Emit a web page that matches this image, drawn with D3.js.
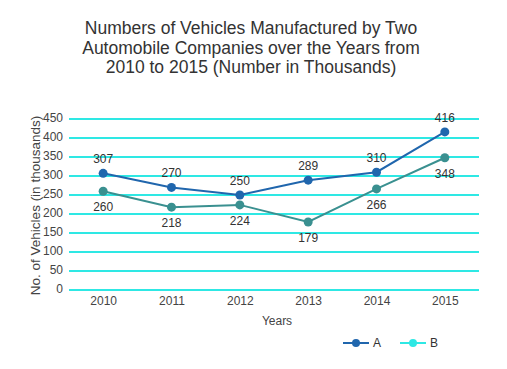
<!DOCTYPE html>
<html>
<head>
<meta charset="utf-8">
<script src="https://cdn.jsdelivr.net/npm/d3@7"></script>
<style>
  body { margin: 0; background: #fff; }
  svg { font-family: "Liberation Sans", Arial, sans-serif; display: block; }
</style>
</head>
<body>
<svg id="chart" width="507" height="369"></svg>
<script>
const years = ["2010", "2011", "2012", "2013", "2014", "2015"];
const seriesA = [307, 270, 250, 289, 310, 416];
const seriesB = [260, 218, 224, 179, 266, 348];
const yTicks = [0, 50, 100, 150, 200, 250, 300, 350, 400, 450];
const titleLines = [
  "Numbers of Vehicles Manufactured by Two",
  "Automobile Companies over the Years from",
  "2010 to 2015 (Number in Thousands)"
];

const svg = d3.select("#chart");
const plot = { left: 69, right: 479, top: 119, bottom: 290 };

const x = d3.scalePoint().domain(years).range([plot.left, plot.right]).padding(0.5);
const y = d3.scaleLinear().domain([0, 450]).range([plot.bottom, plot.top]);

// title
svg.append("text")
  .attr("text-anchor", "middle")
  .attr("fill", "#333")
  .style("font-size", "17.5px")
  .selectAll("tspan")
  .data(titleLines)
  .enter()
  .append("tspan")
  .attr("x", 251)
  .attr("y", (d, i) => 34 + i * 19.5)
  .text(d => d);

// grid lines
svg.append("g")
  .selectAll("line")
  .data(yTicks)
  .enter()
  .append("line")
  .attr("x1", plot.left)
  .attr("x2", plot.right)
  .attr("y1", d => y(d))
  .attr("y2", d => y(d))
  .attr("stroke", "#2ee8e4")
  .attr("stroke-width", 2);

// y axis
const yAxis = svg.append("g")
  .attr("transform", `translate(${plot.left},0)`)
  .call(d3.axisLeft(y).tickValues(yTicks).tickSize(0).tickPadding(6));
yAxis.select(".domain").remove();
yAxis.selectAll("text").attr("fill", "#444").attr("dy", "0.2em").style("font-size", "12px")
  .style("font-family", "Liberation Sans, Arial, sans-serif");

// x axis
const xAxis = svg.append("g")
  .attr("transform", `translate(0,${plot.bottom})`)
  .call(d3.axisBottom(x).tickSize(0).tickPadding(6));
xAxis.select(".domain").remove();
xAxis.selectAll("text").attr("fill", "#444").style("font-size", "12px")
  .style("font-family", "Liberation Sans, Arial, sans-serif");

// axis titles
svg.append("text")
  .attr("transform", `translate(40,${(plot.top + plot.bottom) / 2 + 1}) rotate(-90)`)
  .attr("text-anchor", "middle")
  .attr("fill", "#444")
  .style("font-size", "13.5px")
  .text("No. of Vehicles (in thousands)");

svg.append("text")
  .attr("x", 277)
  .attr("y", 325)
  .attr("text-anchor", "middle")
  .attr("fill", "#444")
  .style("font-size", "12px")
  .text("Years");

const line = d3.line().x((d, i) => x(years[i])).y(d => y(d));

function drawSeries(values, color, labelDy) {
  const g = svg.append("g");
  g.append("path")
    .datum(values)
    .attr("d", line)
    .attr("fill", "none")
    .attr("stroke", color)
    .attr("stroke-width", 2);
  g.selectAll("circle")
    .data(values)
    .enter()
    .append("circle")
    .attr("cx", (d, i) => x(years[i]))
    .attr("cy", d => y(d))
    .attr("r", 4.5)
    .attr("fill", color);
  g.selectAll("text")
    .data(values)
    .enter()
    .append("text")
    .attr("x", (d, i) => x(years[i]))
    .attr("y", d => y(d) + labelDy)
    .attr("text-anchor", "middle")
    .attr("fill", "#333")
    .style("font-size", "12px")
    .text(d => d);
}

drawSeries(seriesA, "#2066ad", -10);
drawSeries(seriesB, "#3a9090", 20);

// legend
const legendItems = [
  { name: "A", color: "#2066ad", x: 343 },
  { name: "B", color: "#2ee8e4", x: 400 }
];
const legend = svg.append("g");
legendItems.forEach(item => {
  legend.append("line")
    .attr("x1", item.x).attr("x2", item.x + 26)
    .attr("y1", 343).attr("y2", 343)
    .attr("stroke", item.color).attr("stroke-width", 2);
  legend.append("circle")
    .attr("cx", item.x + 13).attr("cy", 343).attr("r", 4)
    .attr("fill", item.color);
  legend.append("text")
    .attr("x", item.x + 30).attr("y", 347)
    .attr("fill", "#333")
    .style("font-size", "12px")
    .text(item.name);
});
</script>
</body>
</html>
